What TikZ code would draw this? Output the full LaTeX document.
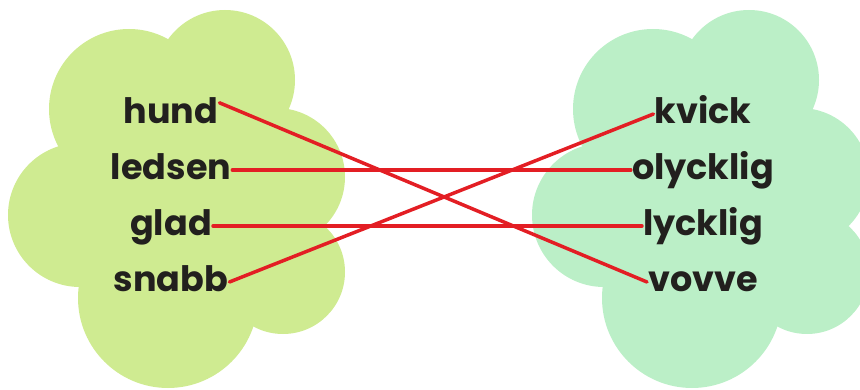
\documentclass[tikz,border=0pt]{standalone}
\usepackage{fontspec}
\setmainfont{Poppins}
\usepackage{tikz}
\definecolor{limecloud}{RGB}{207, 235, 145}
\definecolor{mintcloud}{RGB}{187, 239, 199}
\definecolor{linkred}{RGB}{227, 30, 36}
\definecolor{wordblack}{RGB}{34, 32, 30}

\tikzset{
  blob/.pic={
    \foreach \cx/\cy/\r in {129/109/80, 225/80/70, 276/177/69, 283/272/62, 168/298/90, 80/215/72, 190/200/110}
      \fill (\cx,\cy) circle (\r pt);
  },
  word/.style={text=wordblack, font=\bfseries\fontsize{35}{42}\selectfont, inner sep=1pt, text height=20pt, text depth=0pt, anchor=base},
  link/.style={linkred, line width=3.5pt, line cap=round}
}

\begin{document}
\begin{tikzpicture}[x=1pt, y=-1pt]
  \useasboundingbox (0,0) rectangle (860,390);
  \clip (0,0) rectangle (860,390);
  % två moln
  \pic[fill=limecloud] at (0,0) {blob};
  \pic[fill=mintcloud] at (524,0) {blob};
  % orden
  \foreach \w [count=\i] in {hund,ledsen,glad,snabb}
    \node[word] (l\i) at (171, 68+56*\i) {\w};
  \foreach \w [count=\i] in {kvick,olycklig,lycklig,vovve}
    \node[word] (r\i) at (703, 68+56*\i) {\w};
  % kopplingar
  \draw[link] (l1.north east) -- (r4.west);
  \draw[link] (l2.east) -- (r2.west);
  \draw[link] (l3.east) -- (r3.west);
  \draw[link] (l4.east) -- (r1.west);
\end{tikzpicture}
\end{document}
